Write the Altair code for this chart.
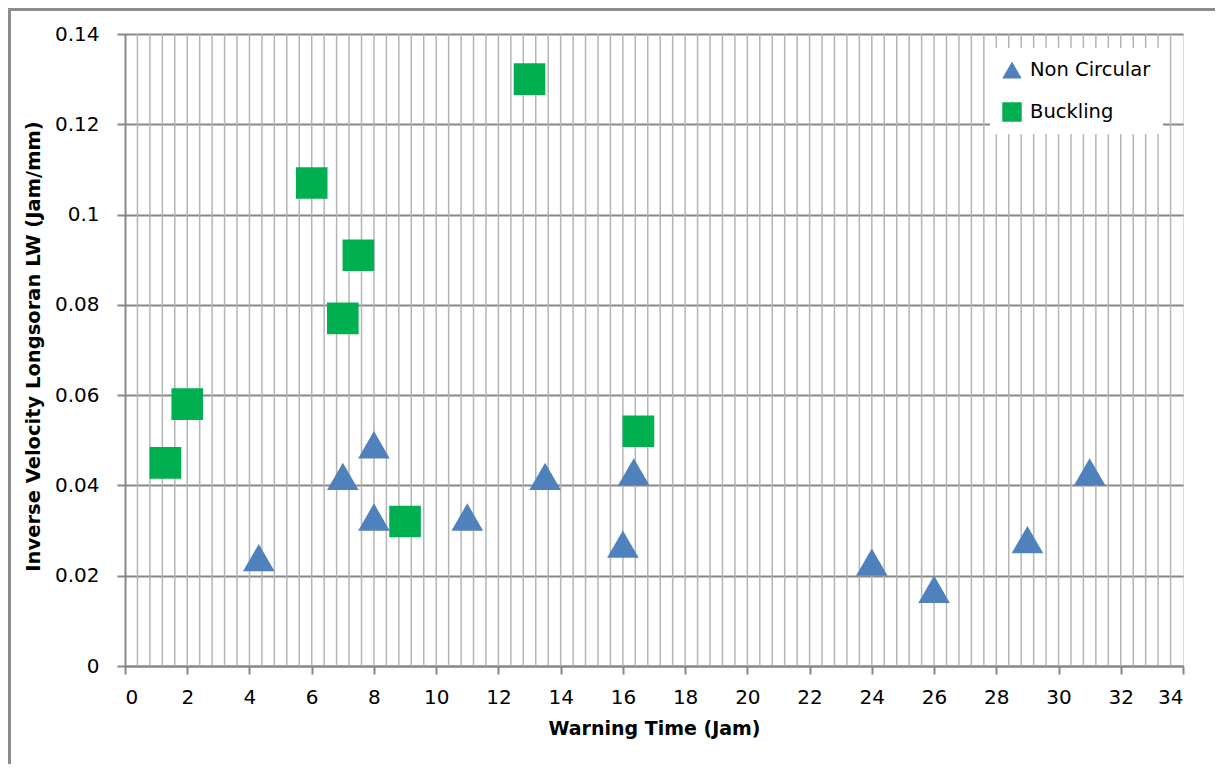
import altair as alt
import pandas as pd

# Data
nc_x = [4.3, 7.0, 8.0, 8.0, 11.0, 13.5, 16.0, 16.35, 24.0, 26.0, 29.0, 31.0]
nc_y = [0.024, 0.042, 0.049, 0.033, 0.033, 0.042, 0.027, 0.043, 0.023, 0.017, 0.028, 0.043]

bk_x = [1.3, 2.0, 6.0, 7.0, 7.5, 9.0, 13.0, 16.5]
bk_y = [0.045, 0.058, 0.107, 0.077, 0.091, 0.032, 0.130, 0.052]

series_names = ["Non Circular", "Buckling"]
series_colors = ["#4F81BD", "#00B050"]
series_shapes = ["triangle-up", "square"]

x_ticks = list(range(0, 35, 2))
y_ticks = [0, 0.02, 0.04, 0.06, 0.08, 0.10, 0.12, 0.14]
minor_x = [round(0.4 * i, 1) for i in range(1, 85)]

df = pd.DataFrame(
    {"x": nc_x + bk_x, "y": nc_y + bk_y,
     "series": [series_names[0]] * len(nc_x) + [series_names[1]] * len(bk_x)}
)
grid_df = pd.DataFrame({"gx": minor_x})

FONT = "DejaVu Sans"
W, H = 1058, 632

xscale = alt.Scale(domain=[0, 34], nice=False, zero=False)
yscale = alt.Scale(domain=[0, 0.14], nice=False)

legend_cfg = dict(title=None, orient="none", legendX=865, legendY=14,
                  fillColor="white", padding=12,
                  labelFont=FONT, labelFontSize=19.5, labelColor="#000",
                  symbolSize=380, rowPadding=22, labelOffset=8,
                  symbolStrokeWidth=0)

vgrid = alt.Chart(grid_df).mark_rule(color="#b4b4b4", strokeWidth=1.5).encode(
    x=alt.X("gx:Q", scale=xscale)
)

points = alt.Chart(df).mark_point(filled=True, opacity=1, size=1000).encode(
    x=alt.X("x:Q", scale=xscale,
            axis=alt.Axis(values=x_ticks, title="Warning Time (Jam)", grid=False,
                          labelFontSize=20, labelFont=FONT, labelColor="#000",
                          labelPadding=13, tickSize=8, tickColor="#878787", tickWidth=2,
                          domainColor="#878787", domainWidth=2,
                          titleFont=FONT, titleFontSize=19, titleFontWeight="bold",
                          titleColor="#000", titleY=62, titleBaseline="middle")),
    y=alt.Y("y:Q", scale=yscale,
            axis=alt.Axis(values=y_ticks, format=".2~f",
                          title="Inverse Velocity Longsoran LW (Jam/mm)",
                          grid=True, gridColor="#878787", gridWidth=2,
                          labelFontSize=20, labelFont=FONT, labelColor="#000",
                          labelPadding=18, tickSize=8, tickColor="#878787", tickWidth=2,
                          domainColor="#878787", domainWidth=2,
                          titleFont=FONT, titleFontSize=19.5, titleFontWeight="bold",
                          titleColor="#000", titleX=-92, titleY=H / 2 - 4,
                          titleBaseline="middle", titleAlign="center")),
    color=alt.Color("series:N",
                    scale=alt.Scale(domain=series_names, range=series_colors),
                    legend=alt.Legend(**legend_cfg)),
    shape=alt.Shape("series:N",
                    scale=alt.Scale(domain=series_names, range=series_shapes),
                    legend=alt.Legend(**legend_cfg)),
)

frame_left = alt.Chart(df).mark_rule(color="#8c8c8c", strokeWidth=3).encode(
    x=alt.value(-116), y=alt.value(-26), y2=alt.value(H + 98)
)
frame_top = alt.Chart(df).mark_rule(color="#8c8c8c", strokeWidth=3).encode(
    x=alt.value(-116), x2=alt.value(W + 32), y=alt.value(-25)
)

chart = alt.layer(vgrid, points, frame_left, frame_top).properties(
    width=W, height=H,
    padding={"left": 117, "top": 26, "right": 32, "bottom": 98},
    autosize=alt.AutoSizeParams(type="none"),
).configure_view(stroke="#000", strokeWidth=2).configure(background="white")

chart.save("out.html", embed_options={"renderer": "svg", "actions": False})
